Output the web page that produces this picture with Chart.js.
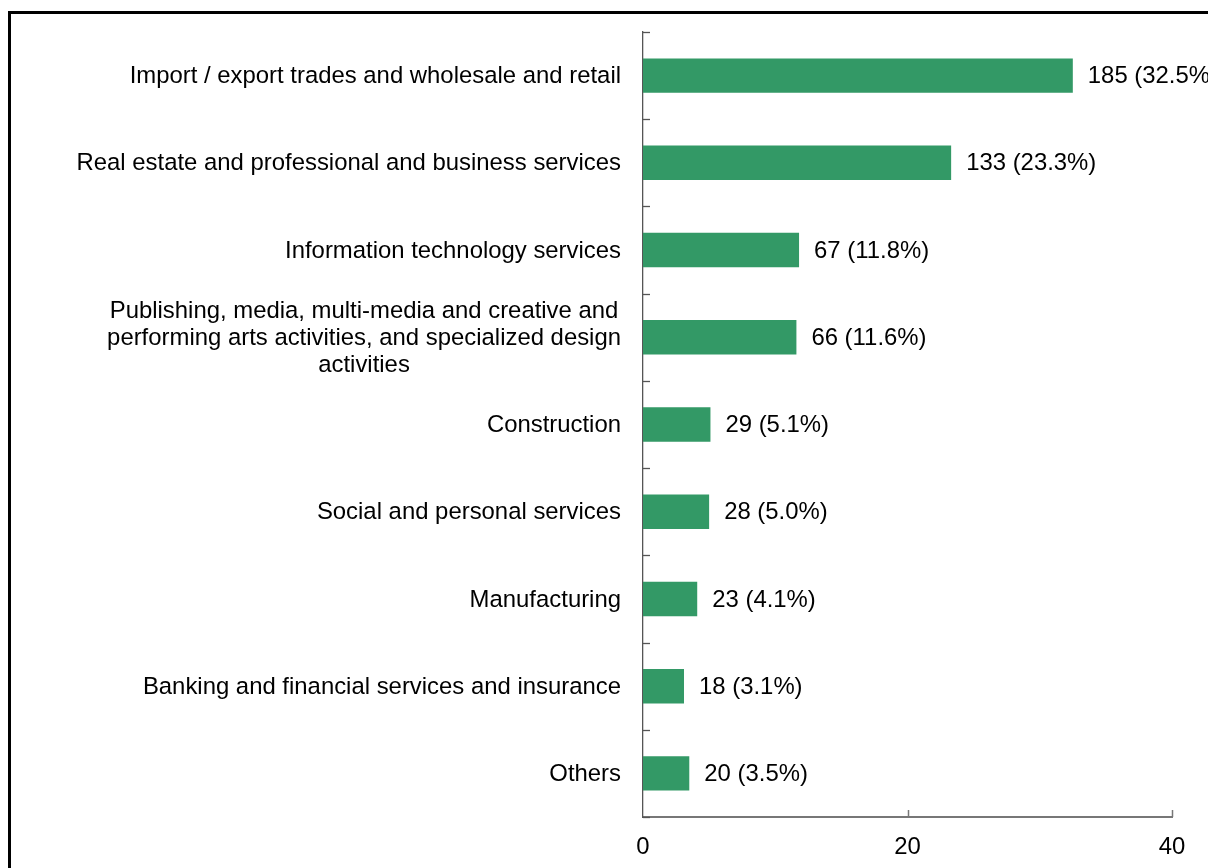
<!DOCTYPE html>
<html>
<head>
<meta charset="utf-8">
<script src="https://cdn.jsdelivr.net/npm/chart.js@4.4.1/dist/chart.umd.min.js"></script>
<style>
  html, body { margin: 0; padding: 0; background: #fff; overflow: hidden; width: 1208px; height: 868px; }
  #frame { position: absolute; left: 8px; top: 11px; width: 1400px; height: 1000px; border: 3px solid #000; box-sizing: border-box; }
  #chart { position: absolute; left: 0; top: 0; }
</style>
</head>
<body>
<div id="frame"></div>
<canvas id="chart" width="1208" height="868"></canvas>
<script>
// Industry categories (multi-line entries are pre-wrapped)
const categories = [
  ['Import / export trades and wholesale and retail'],
  ['Real estate and professional and business services'],
  ['Information technology services'],
  ['Publishing, media, multi-media and creative and', 'performing arts activities, and specialized design', 'activities'],
  ['Construction'],
  ['Social and personal services'],
  ['Manufacturing'],
  ['Banking and financial services and insurance'],
  ['Others']
];
// Number of companies in each industry
const counts = [185, 133, 67, 66, 29, 28, 23, 18, 20];
// Share of total (%), which sets the bar length
const shares = [32.5, 23.3, 11.8, 11.6, 5.1, 5.0, 4.1, 3.1, 3.5];
// Value-axis tick labels
const xTicks = [0, 20, 40];

const FONT_FAMILY = "'Liberation Sans', Arial, sans-serif";
const FONT_SIZE = 23.9;
const BAR_COLOR = '#339966';

// Category labels: right-aligned to the axis, extra lines centred under the first
const categoryLabels = {
  id: 'categoryLabels',
  afterDraw(chart) {
    const ctx = chart.ctx;
    const y = chart.scales.y;
    const right = chart.chartArea.left - 22;
    const lineH = 27;
    ctx.save();
    ctx.font = `${FONT_SIZE}px ${FONT_FAMILY}`;
    ctx.fillStyle = '#000';
    ctx.textBaseline = 'middle';
    ctx.textAlign = 'center';
    categories.forEach((lines, i) => {
      const widest = Math.max(...lines.map(l => ctx.measureText(l).width));
      const cx = right - widest / 2;
      const cy = y.getPixelForValue(i) + 1;
      lines.forEach((line, k) => {
        ctx.fillText(line, cx, cy + (k - (lines.length - 1) / 2) * lineH);
      });
    });
    ctx.restore();
  }
};

// Value labels to the right of each bar
const valueLabels = {
  id: 'valueLabels',
  afterDatasetsDraw(chart) {
    const ctx = chart.ctx;
    const meta = chart.getDatasetMeta(0);
    ctx.save();
    ctx.font = `${FONT_SIZE}px ${FONT_FAMILY}`;
    ctx.fillStyle = '#000';
    ctx.textBaseline = 'middle';
    ctx.textAlign = 'left';
    meta.data.forEach((bar, i) => {
      ctx.fillText(`${counts[i]} (${shares[i].toFixed(1)}%)`, bar.x + 15, bar.y + 1);
    });
    ctx.restore();
  }
};

// Tick marks pointing into the plot area
const innerTicks = {
  id: 'innerTicks',
  afterDraw(chart) {
    const ctx = chart.ctx;
    const { x, y } = chart.scales;
    const area = chart.chartArea;
    ctx.save();
    ctx.strokeStyle = '#555';
    ctx.lineWidth = 1.3;
    for (let i = 0; i <= categories.length; i++) {
      const py = Math.round(y.getPixelForValue(i - 0.5)) + 0.5;
      ctx.beginPath();
      ctx.moveTo(area.left, py);
      ctx.lineTo(area.left + 7, py);
      ctx.stroke();
    }
    ctx.strokeStyle = '#777';
    ctx.lineWidth = 1.5;
    xTicks.forEach(v => {
      if (v === 0) return;
      const px = Math.round(x.getPixelForValue(v)) + 0.5;
      ctx.beginPath();
      ctx.moveTo(px, area.bottom);
      ctx.lineTo(px, area.bottom - 7);
      ctx.stroke();
    });
    ctx.restore();
  }
};

new Chart(document.getElementById('chart'), {
  type: 'bar',
  data: {
    labels: categories,
    datasets: [{
      data: shares,
      backgroundColor: BAR_COLOR,
      borderWidth: 0,
      barPercentage: 0.395,
      categoryPercentage: 1
    }]
  },
  options: {
    indexAxis: 'y',
    responsive: false,
    animation: false,
    devicePixelRatio: 1,
    layout: { padding: { left: 0, top: 32, right: 36, bottom: 0 } },
    plugins: {
      legend: { display: false },
      tooltip: { enabled: false }
    },
    scales: {
      x: {
        position: 'bottom',
        min: 0,
        max: 40,
        afterBuildTicks(scale) { scale.ticks = xTicks.map(v => ({ value: v })); },
        afterFit(scale) { scale.height = 51; },
        grid: { display: false, drawTicks: false },
        border: { display: true, color: '#777', width: 2 },
        ticks: {
          padding: 16,
          color: '#000',
          font: { family: FONT_FAMILY, size: FONT_SIZE },
          maxRotation: 0
        }
      },
      y: {
        type: 'category',
        offset: true,
        afterFit(scale) { scale.width = 643; },
        grid: { display: false, drawTicks: false },
        border: { display: true, color: '#555', width: 1.3 },
        ticks: { display: false }
      }
    }
  },
  plugins: [categoryLabels, valueLabels, innerTicks]
});
</script>
</body>
</html>
